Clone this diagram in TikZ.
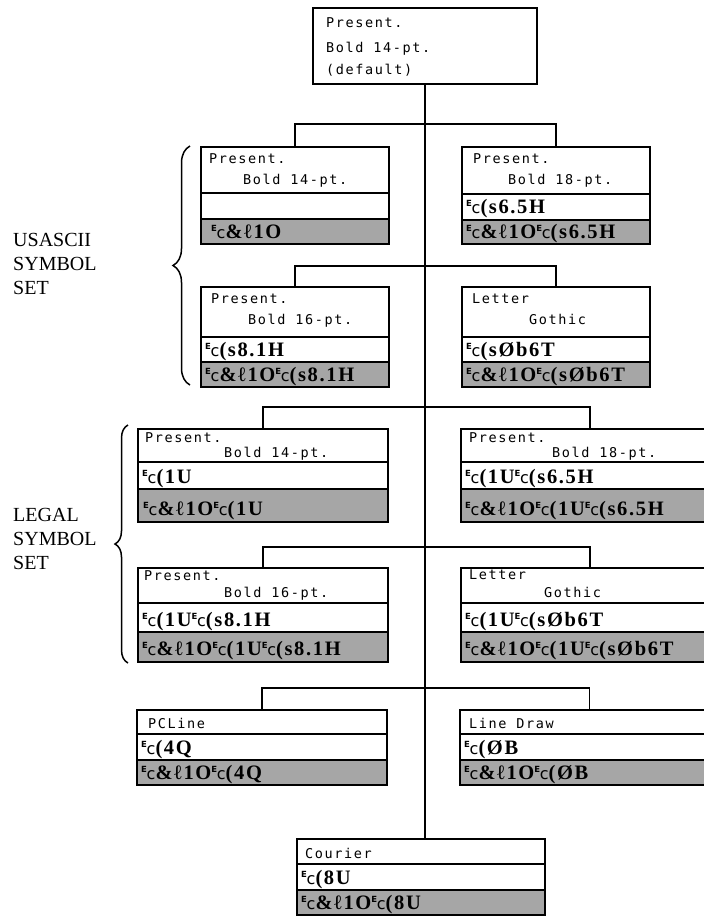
\documentclass[tikz,border=0pt]{standalone}
\usepackage{fontspec}
\setmainfont{Liberation Serif}
\newfontfamily\ttlfont{DejaVu Sans Mono}[LetterSpace=12]
\newfontfamily\escfont{Liberation Serif}[LetterSpace=8]
\newfontfamily\escsans{DejaVu Sans}
\usetikzlibrary{decorations.pathreplacing}

\definecolor{rowgray}{gray}{0.65}

\newcommand{\Ec}{\raisebox{6.5pt}{\escsans\bfseries\fontsize{8.5}{8.5}\selectfont E}\kern-0.3pt{\escsans\mdseries\fontsize{16}{16}\selectfont c}}

% one box: name, left, right, top, title bottom, white bottom, grey bottom
\newcommand{\fontbox}[7]{%
  \draw[boxline] (#2,#4) rectangle (#3,#5) (#2,#5) rectangle (#3,#6);
  \draw[greyrow] (#2,#6) rectangle (#3,#7);
  \coordinate (#1) at ({(#2+#3)/2},#4);}

\tikzset{
  boxline/.style={line width=1.4pt},
  greyrow/.style={boxline, fill=rowgray},
  conn/.style={line width=1.2pt},
  ttl/.style={font=\ttlfont\fontsize{13.5}{14}\selectfont, anchor=base west, inner sep=0pt},
  esc/.style={font=\escfont\bfseries\fontsize{20.5}{20.5}\selectfont, anchor=base west, inner sep=0pt},
  setlabel/.style={font=\fontsize{20}{24}\selectfont, align=left, anchor=west, inner sep=0pt},
  setbrace/.style={decorate, line width=1.5pt},
}

\begin{document}
\begin{tikzpicture}[x=1pt,y=-1pt]
\useasboundingbox (0,0) rectangle (704,916);
\clip (0,0) rectangle (704,916);

% default font
\draw[boxline] (313,8) rectangle (537,84);
\coordinate (dflt) at (425,84);
\node[ttl] (dflt1) at (326,27) {Present.};
\node[ttl] (dflt2) at (326,52) {Bold 14-pt.};
\node[ttl] (dflt3) at (326,74) {(default)};

% USASCII symbol set
\begin{scope}
\fontbox{u14}{201}{389}{147}{193}{219}{244}
\fontbox{u18}{462}{650}{147}{194}{220}{244}
\fontbox{u16}{201}{389}{287}{337}{362}{387}
\fontbox{ulg}{462}{650}{287}{337}{362}{387}

\node[ttl] (u14a) at (209,163) {Present.};
\node[ttl] (u14b) at (243,184) {Bold 14-pt.};
\node[esc] (u14g) at (211,238) {\Ec\&ℓ1O};

\node[ttl] (u18a) at (473,163) {Present.};
\node[ttl] (u18b) at (508,184) {Bold 18-pt.};
\node[esc] (u18w) at (466,213) {\Ec(s6.5H};
\node[esc] (u18g) at (466,238) {\Ec\&ℓ1O\Ec(s6.5H};

\node[ttl] (u16a) at (211,303) {Present.};
\node[ttl] (u16b) at (248,324) {Bold 16-pt.};
\node[esc] (u16w) at (205,356) {\Ec(s8.1H};
\node[esc] (u16g) at (205,381) {\Ec\&ℓ1O\Ec(s8.1H};

\node[ttl] (ulga) at (472,303) {Letter};
\node[ttl] (ulgb) at (529,324) {Gothic};
\node[esc] (ulgw) at (466,356) {\Ec(sØb6T};
\node[esc] (ulgg) at (466,381) {\Ec\&ℓ1O\Ec(sØb6T};

\draw[setbrace, decoration={brace, amplitude=17pt}] (190,385) -- (190,146);
\node[setlabel] (usascii) at (13,264) {USASCII\\SYMBOL\\SET};
\end{scope}

% Legal symbol set
\begin{scope}
\fontbox{l14}{138}{388}{429}{462}{489}{522}
\fontbox{l18}{461}{719}{429}{462}{489}{522}
\fontbox{l16}{138}{388}{568}{603}{632}{662}
\fontbox{llg}{461}{719}{568}{603}{632}{662}

\node[ttl] (l14a) at (145,442) {Present.};
\node[ttl] (l14b) at (224,457) {Bold 14-pt.};
\node[esc] (l14w) at (142,483) {\Ec(1U};
\node[esc] (l14g) at (143,515) {\Ec\&ℓ1O\Ec(1U};

\node[ttl] (l18a) at (469,442) {Present.};
\node[ttl] (l18b) at (552,457) {Bold 18-pt.};
\node[esc] (l18w) at (465,483) {\Ec(1U\Ec(s6.5H};
\node[esc] (l18g) at (465,515) {\Ec\&ℓ1O\Ec(1U\Ec(s6.5H};

\node[ttl] (l16a) at (144,580) {Present.};
\node[ttl] (l16b) at (224,597) {Bold 16-pt.};
\node[esc] (l16w) at (142,626) {\Ec(1U\Ec(s8.1H};
\node[esc] (l16g) at (142,655) {\Ec\&ℓ1O\Ec(1U\Ec(s8.1H};

\node[ttl] (llga) at (469,579) {Letter};
\node[ttl] (llgb) at (544,597) {Gothic};
\node[esc] (llgw) at (465,626) {\Ec(1U\Ec(sØb6T};
\node[esc] (llgg) at (465,655) {\Ec\&ℓ1O\Ec(1U\Ec(sØb6T};

\draw[setbrace, decoration={brace, amplitude=13pt}] (128,663) -- (128,425);
\node[setlabel] (legal) at (13,539) {LEGAL\\SYMBOL\\SET};
\end{scope}

% other fonts
\fontbox{pcl}{137}{387}{710}{734}{760}{785}
\fontbox{ldr}{460}{719}{710}{734}{760}{785}
\fontbox{cour}{297}{545}{839}{864}{890}{915}

\node[ttl] (pcla) at (148,728) {PCLine};
\node[esc] (pclw) at (141,754) {\Ec(4Q};
\node[esc] (pclg) at (141,779) {\Ec\&ℓ1O\Ec(4Q};

\node[ttl] (ldra) at (469,728) {Line Draw};
\node[esc] (ldrw) at (464,754) {\Ec(ØB};
\node[esc] (ldrg) at (464,779) {\Ec\&ℓ1O\Ec(ØB};

\node[ttl] (coura) at (305,858) {Courier};
\node[esc] (courw) at (301,884) {\Ec(8U};
\node[esc] (courg) at (301,909) {\Ec\&ℓ1O\Ec(8U};

% tree
\coordinate (brA) at (425,124);
\coordinate (brB) at (425,266);
\coordinate (brC) at (425,407);
\coordinate (brD) at (425,547);
\coordinate (brE) at (425,688);

\draw[conn] (dflt) -- (dflt |- cour);
\draw[conn] (u14) |- (brA) -| (u18);
\draw[conn] (u16) |- (brB) -| (ulg);
\draw[conn] (l14) |- (brC) -| (l18);
\draw[conn] (l16) |- (brD) -| (llg);
\draw[conn] (pcl) |- (brE) -| (ldr);

\end{tikzpicture}
\end{document}
